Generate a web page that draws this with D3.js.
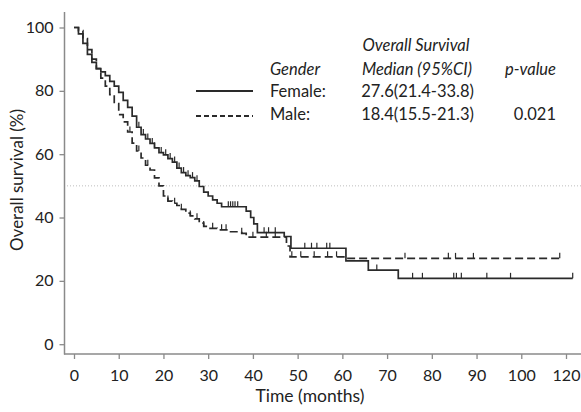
<!DOCTYPE html>
<html><head><meta charset="utf-8">
<script src="https://cdn.jsdelivr.net/npm/d3@7"></script>
<style>body{margin:0;background:#fff}svg{display:block}text{font-family:Lato,"Open Sans",sans-serif;fill:#222}</style>
</head><body><svg id="c" width="581" height="412"></svg>
<script>
// ---- data ----
const femaleTimes = [0,1,2,3,4,5,6,7,8,9,10,11,12,13,14,15,16,17,18,19,20,21,22,23,24,25,26,27,28,29,30,31,32,33,38.5,39.5,40.2,41,47,48.5,60.8,65.8,72.5,111.5];
const femaleSurv  = [100,98,95,91.5,89,87,86,84.8,83,81.5,79.5,77,74.8,72,68.5,66.2,64.8,63.4,62,60.5,59.8,58.6,57.5,55.6,54.2,53.2,52.6,51.6,49.8,48,46.8,45.6,44.5,43.4,42,40,38,35.2,34,30.3,26.3,23.4,20.8,20.8];
const femaleCensor = [14.5,15.5,16.5,17.5,18,19.5,20.5,21.5,22.5,23.5,24.5,25.5,26.5,27.5,34.5,35,35.5,36,36.6,42.5,43.5,45,51.6,53.1,54.3,56.5,57.2,67.7,75.7,77.9,84.9,85.5,86.6,92.3,97.6,111.5];

const maleTimes = [0,1,2,3,4,5,6,7,8,9,10,11,12,13,14,15,16,17,18,19,20,21,22,23,24,25,26,27,28,29,30,32,35,37.5,38.5,47.5,48.3,61,108.6];
const maleSurv  = [100,99,96.5,93,90,87,84,81.5,78.8,76,72.5,70.2,67,63.5,61,58.8,56.5,55,52.5,50,46.8,45.2,44.5,43.8,42.6,41.4,40.5,39.6,38.2,37.2,36.6,36.1,35.5,35,33.8,31,27.6,27.1,27.1];
const maleCensor = [12.5,14.5,16.5,21,22.5,24,26,27.5,29,31,33,34,37.5,40,43,45,48.7,50.7,53.7,56.7,58.7,74,83.7,85.3,89.3,108.6];

const xTickValues = [0,10,20,30,40,50,60,70,80,90,100,110];
const xTickLabels = ["0","10","20","30","40","50","60","70","80","90","100","120"];
const yTickValues = [0,20,40,60,80,100];

const legendGroups = ["Female:","Male:"];
const legendMedians = ["27.6(21.4-33.8)","18.4(15.5-21.3)"];
const pValue = "0.021";

// ---- drawing ----
const svg = d3.select("#c");
const x = d3.scaleLinear().domain([0,110]).range([74,566]);
const y = d3.scaleLinear().domain([0,100]).range([344.2,27.5]);
const axisColor = "#8a8a8a";

svg.append("line").attr("x1",64.5).attr("x2",64.5).attr("y1",12).attr("y2",354.5).attr("stroke",axisColor).attr("stroke-width",1.5);
svg.append("line").attr("x1",64).attr("x2",581).attr("y1",354).attr("y2",354).attr("stroke",axisColor).attr("stroke-width",1.5);

const ya = svg.append("g").attr("transform","translate(64.5,0)")
  .call(d3.axisLeft(y).tickValues(yTickValues).tickSize(5).tickPadding(6));
const xa = svg.append("g").attr("transform","translate(0,354)")
  .call(d3.axisBottom(x).tickValues(xTickValues).tickFormat((d,i)=>xTickLabels[i]).tickSize(5).tickPadding(11));
[ya,xa].forEach(g=>{
  g.select(".domain").remove();
  g.selectAll(".tick line").attr("stroke",axisColor).attr("stroke-width",1.3);
  g.selectAll(".tick text").style("font-family","Lato, sans-serif").style("font-size","16px").attr("fill","#222");
});

svg.append("text").attr("transform","translate(23,180) rotate(-90)").attr("text-anchor","middle")
  .style("font-size","17px").text("Overall survival (%)");
svg.append("text").attr("x",310).attr("y",402).attr("text-anchor","middle")
  .style("font-size","17.5px").text("Time (months)");

svg.append("line").attr("x1",67).attr("x2",581).attr("y1",y(50)).attr("y2",y(50))
  .attr("stroke","#bdbdbd").attr("stroke-width",1).attr("stroke-dasharray","1,2");

const line = d3.line().x(d=>x(d[0])).y(d=>y(d[1])).curve(d3.curveStepAfter);
const fData = femaleTimes.map((t,i)=>[t,femaleSurv[i]]);
const mData = maleTimes.map((t,i)=>[t,maleSurv[i]]);
const stroke = "#2a2a2a";
svg.append("path").attr("d",line(mData)).attr("fill","none").attr("stroke",stroke).attr("stroke-width",1.7).attr("stroke-dasharray","8,4");
svg.append("path").attr("d",line(fData)).attr("fill","none").attr("stroke",stroke).attr("stroke-width",1.7);

function survAt(times,surv,t){let s=surv[0];for(let i=0;i<times.length;i++){if(times[i]<=t)s=surv[i];}return s;}
svg.selectAll(".fc").data(femaleCensor).enter().append("line")
  .attr("x1",d=>x(d)).attr("x2",d=>x(d))
  .attr("y1",d=>y(survAt(femaleTimes,femaleSurv,d))).attr("y2",d=>y(survAt(femaleTimes,femaleSurv,d))-5.5)
  .attr("stroke",stroke).attr("stroke-width",1.2);
svg.selectAll(".mc").data(maleCensor).enter().append("line")
  .attr("x1",d=>x(d)).attr("x2",d=>x(d))
  .attr("y1",d=>y(survAt(maleTimes,maleSurv,d))).attr("y2",d=>y(survAt(maleTimes,maleSurv,d))-5.5)
  .attr("stroke",stroke).attr("stroke-width",1.2);

const lg = svg.append("g").style("font-size","16.5px");
lg.append("text").attr("x",416).attr("y",51).attr("text-anchor","middle").style("font-style","italic").text("Overall Survival");
lg.append("text").attr("x",270).attr("y",75).style("font-style","italic").text("Gender");
lg.append("text").attr("x",472).attr("y",75).attr("text-anchor","end").style("font-style","italic").text("Median (95%CI)");
lg.append("text").attr("x",556).attr("y",75).attr("text-anchor","end").style("font-style","italic").text("p-value");
legendGroups.forEach((g,i)=>{
  const by = 97 + i*22.5;
  lg.append("line").attr("x1",196).attr("x2",253).attr("y1",91+i*25).attr("y2",91+i*25)
    .attr("stroke",stroke).attr("stroke-width",1.8).attr("stroke-dasharray",i===0?null:"5,3");
  lg.append("text").attr("x",270).attr("y",by).text(g);
  lg.append("text").attr("x",474).attr("y",by).attr("text-anchor","end").text(legendMedians[i]);
});
lg.append("text").attr("x",556).attr("y",119.5).attr("text-anchor","end").text(pValue);
</script></body></html>
